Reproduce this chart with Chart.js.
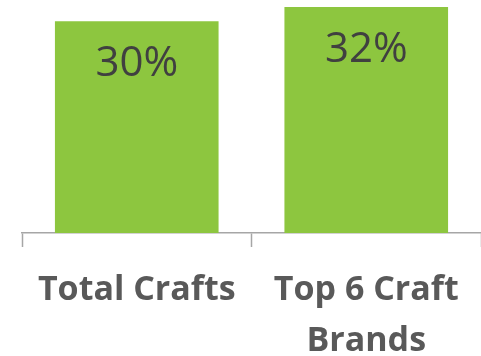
<!DOCTYPE html>
<html>
<head>
<meta charset="utf-8">
<script src="https://cdn.jsdelivr.net/npm/chart.js@4/dist/chart.umd.min.js"></script>
<style>
  html, body { margin: 0; padding: 0; background: #fff; }
  #wrap { width: 481px; height: 356px; }
</style>
</head>
<body>
<div id="wrap"><canvas id="craftChart" width="481" height="356"></canvas></div>
<script>
  // dados
  const categories = ['Total Crafts', ['Top 6 Craft', 'Brands']];
  const shareValues = [30, 32];
  const valueLabels = ['30%', '32%'];

  const BAR_GREEN = '#8dc63f';
  const AXIS_GREY = '#a6a6a6';

  // escreve o valor dentro do topo de cada barra
  const insideLabels = {
    id: 'insideLabels',
    afterDatasetsDraw(chart) {
      const ctx = chart.ctx;
      const meta = chart.getDatasetMeta(0);
      ctx.save();
      ctx.font = '42px "Open Sans"';
      ctx.fillStyle = '#404040';
      ctx.textAlign = 'center';
      ctx.textBaseline = 'middle';
      meta.data.forEach((bar, i) => {
        ctx.fillText(valueLabels[i], bar.x, bar.y + 43);
      });
      ctx.restore();
    }
  };

  new Chart(document.getElementById('craftChart').getContext('2d'), {
    type: 'bar',
    data: {
      labels: categories,
      datasets: [{
        data: shareValues,
        backgroundColor: BAR_GREEN,
        borderWidth: 0,
        categoryPercentage: 1,
        barPercentage: 0.713
      }]
    },
    options: {
      responsive: false,
      animation: false,
      layout: { padding: { left: 22, right: 0, top: 0, bottom: 0 } },
      plugins: { legend: { display: false }, tooltip: { enabled: false } },
      scales: {
        x: {
          offset: true,
          // altura fixa do eixo para as legendas ficarem mais juntas ao fundo
          afterFit(scale) { scale.height = 123; },
          grid: {
            offset: true,
            drawOnChartArea: false,
            drawTicks: true,
            tickLength: 14,
            tickWidth: 1.5,
            tickColor: AXIS_GREY
          },
          border: { display: true, color: AXIS_GREY, width: 1.5 },
          ticks: {
            color: '#595959',
            padding: 18,
            maxRotation: 0,
            autoSkip: false,
            font: { family: '"Open Sans"', size: 34, weight: 'bold', lineHeight: 1.5 }
          }
        },
        y: {
          display: false,
          min: 0,
          max: 33
        }
      }
    },
    plugins: [insideLabels]
  });
</script>
</body>
</html>
